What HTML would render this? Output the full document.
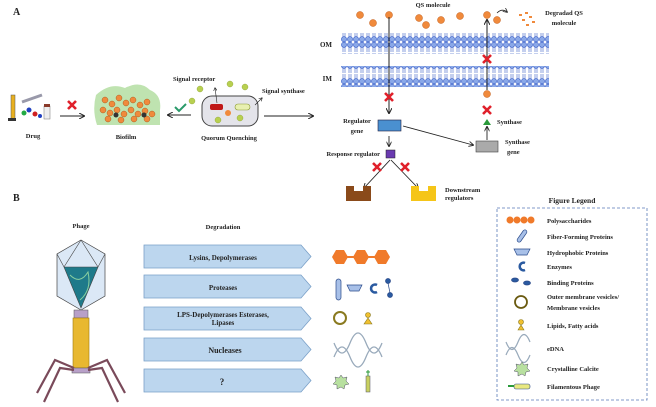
<!DOCTYPE html>
<html><head><meta charset="utf-8"><style>
body{margin:0;background:#fff}
svg{display:block}
text{font-family:"Liberation Serif",serif;font-weight:bold;fill:#222}
</style></head><body>
<svg width="656" height="407" viewBox="0 0 656 407" xmlns="http://www.w3.org/2000/svg">
<defs>
<pattern id="lip" x="341" y="0" width="6" height="21" patternUnits="userSpaceOnUse">
<circle cx="3" cy="2.8" r="2.6" fill="#8aa8e8" stroke="#3a5fc8" stroke-width="0.6"/>
<circle cx="3" cy="18.2" r="2.6" fill="#8aa8e8" stroke="#3a5fc8" stroke-width="0.6"/>
<path d="M2 5 V10 M4 5 V10 M2 11 V16 M4 11 V16" stroke="#3a5fc8" stroke-width="0.6"/>
</pattern>
<marker id="ah" markerWidth="6" markerHeight="6" refX="5" refY="3" orient="auto"><path d="M0 0 L6 3 L0 6" fill="none" stroke="#222" stroke-width="1"/></marker>
<g id="rx"><path d="M-4 -4 L4 4 M4 -4 L-4 4" stroke="#e0202a" stroke-width="2.6"/></g>
<g id="bp"><path d="M144 0 H301 L311 11.5 L301 23 H144 Z" fill="#bcd6ee" stroke="#7aa0c8" stroke-width="0.8"/></g>
</defs>

<text x="13" y="15" font-size="10">A</text>
<text x="13" y="201" font-size="10">B</text>

<rect x="341" y="33" width="208" height="21" fill="url(#lip)"/>
<rect x="341" y="66" width="208" height="21" fill="url(#lip)"/>
<text x="332" y="47" font-size="7" text-anchor="end">OM</text>
<text x="332" y="81" font-size="7" text-anchor="end">IM</text>

<g fill="#f08a3c" stroke="#c25a14" stroke-width="0.5">
<circle cx="360" cy="15" r="3.5"/><circle cx="373" cy="23" r="3.5"/><circle cx="389" cy="15" r="3.5"/>
<circle cx="419" cy="18" r="3.5"/><circle cx="426" cy="25" r="3.5"/><circle cx="441" cy="20" r="3.5"/>
<circle cx="460" cy="16" r="3.5"/><circle cx="487" cy="15" r="3.5"/><circle cx="497" cy="20" r="3.5"/>
<circle cx="487" cy="94" r="3.5"/>
</g>
<g fill="#f08a3c"><rect x="519" y="14" width="3" height="2"/><rect x="525" y="12" width="3" height="2"/><rect x="529" y="16" width="3" height="2"/><rect x="522" y="19" width="3" height="2"/><rect x="532" y="21" width="3" height="2"/><rect x="526" y="24" width="3" height="2"/></g>
<path d="M497 13 Q502 8 507 12" fill="none" stroke="#222" stroke-width="0.8" marker-end="url(#ah)"/>
<text x="433" y="7" font-size="6.5" text-anchor="middle">QS molecule</text>
<text x="564" y="15" font-size="6.5" text-anchor="middle">Degradad QS</text>
<text x="564" y="25" font-size="6.5" text-anchor="middle">molecule</text>

<line x1="389" y1="17" x2="389" y2="113" stroke="#222" stroke-width="1" marker-end="url(#ah)"/>
<use href="#rx" x="389" y="97"/>
<rect x="378" y="120" width="23" height="11" fill="#4a90d0" stroke="#224" stroke-width="0.6"/>
<text x="357" y="123" font-size="6.5" text-anchor="middle">Regulator</text>
<text x="357" y="133" font-size="6.5" text-anchor="middle">gene</text>
<line x1="389" y1="136" x2="389" y2="146" stroke="#222" stroke-width="0.9" marker-end="url(#ah)"/>
<rect x="386" y="150" width="9" height="8" fill="#6a3ab0" stroke="#222" stroke-width="0.5"/>
<text x="380" y="156" font-size="6.5" text-anchor="end">Response regulator</text>
<line x1="390" y1="160" x2="364" y2="188" stroke="#222" stroke-width="0.9" marker-end="url(#ah)"/>
<line x1="391" y1="160" x2="418" y2="188" stroke="#222" stroke-width="0.9" marker-end="url(#ah)"/>
<use href="#rx" x="377" y="167"/><use href="#rx" x="405" y="167"/>
<path d="M346 186 H354 V191 H363 V186 H371 V201 H346 Z" fill="#8a4a1a"/>
<path d="M411 186 H419 V191 H428 V186 H436 V201 H411 Z" fill="#f5c518"/>
<text x="445" y="192" font-size="6.5">Downstream</text>
<text x="445" y="200" font-size="6.5">regulators</text>

<line x1="403" y1="126" x2="473" y2="145" stroke="#222" stroke-width="0.9" marker-end="url(#ah)"/>
<rect x="476" y="141" width="22" height="11" fill="#aaa" stroke="#444" stroke-width="0.6"/>
<text x="505" y="144" font-size="6.5">Synthase</text>
<text x="507" y="154" font-size="6.5">gene</text>
<line x1="487" y1="140" x2="487" y2="127" stroke="#222" stroke-width="0.9" marker-end="url(#ah)"/>
<path d="M483 125 L487 119 L491 125 Z" fill="#2a9a3a"/>
<text x="497" y="124" font-size="6.5">Synthase</text>
<use href="#rx" x="487" y="110"/>
<line x1="487" y1="90" x2="487" y2="20" stroke="#222" stroke-width="1" marker-end="url(#ah)"/>
<use href="#rx" x="487" y="59"/>

<rect x="11" y="95" width="4" height="24" fill="#e8b020" stroke="#555" stroke-width="0.5"/>
<rect x="8" y="118" width="8" height="3" fill="#333"/>
<path d="M22 102 L42 95" stroke="#99a" stroke-width="3"/>
<circle cx="24" cy="113" r="2.5" fill="#22aa44"/><circle cx="29" cy="110" r="2.5" fill="#2040c0"/><circle cx="35" cy="114" r="2.5" fill="#d02020"/><circle cx="40" cy="116" r="2" fill="#2040c0"/>
<rect x="44" y="106" width="6" height="13" fill="#eee" stroke="#777" stroke-width="0.5"/><rect x="44" y="104" width="6" height="3" fill="#8a3a2a"/>
<text x="33" y="138" font-size="6.5" text-anchor="middle">Drug</text>
<line x1="60" y1="116" x2="84" y2="116" stroke="#222" stroke-width="1" marker-end="url(#ah)"/>
<use href="#rx" x="72" y="105"/>
<path d="M96 95 Q110 82 125 88 Q140 80 150 90 Q162 95 160 110 L160 125 L97 125 Q92 110 96 95 Z" fill="#bfe3b0"/>
<g fill="#f08a3c" stroke="#a04a10" stroke-width="0.4">
<circle cx="105" cy="100" r="3"/><circle cx="112" cy="104" r="3"/><circle cx="119" cy="98" r="3"/><circle cx="126" cy="103" r="3"/><circle cx="133" cy="100" r="3"/><circle cx="140" cy="105" r="3"/><circle cx="147" cy="102" r="3"/>
<circle cx="103" cy="110" r="3"/><circle cx="110" cy="113" r="3"/><circle cx="117" cy="110" r="3"/><circle cx="124" cy="114" r="3"/><circle cx="131" cy="110" r="3"/><circle cx="138" cy="114" r="3"/><circle cx="145" cy="111" r="3"/><circle cx="152" cy="114" r="3"/>
<circle cx="108" cy="119" r="3"/><circle cx="121" cy="120" r="3"/><circle cx="134" cy="119" r="3"/><circle cx="147" cy="119" r="3"/>
</g>
<circle cx="116" cy="115" r="2.5" fill="#333"/><circle cx="144" cy="115" r="2.5" fill="#333"/>
<text x="126" y="139" font-size="6.5" text-anchor="middle">Biofilm</text>
<line x1="191" y1="115" x2="168" y2="115" stroke="#222" stroke-width="1" marker-end="url(#ah)"/>
<path d="M175 107 L179 111 L186 104" fill="none" stroke="#2a9a6a" stroke-width="2"/>
<rect x="202" y="96" width="56" height="30" rx="10" fill="#e4e4ea" stroke="#444" stroke-width="1"/>
<rect x="210" y="104" width="13" height="6" rx="2" fill="#c01818"/>
<rect x="235" y="104" width="15" height="6" rx="3" fill="#e8f0b0" stroke="#8a9a30" stroke-width="0.6"/>
<g fill="#b8d050" stroke="#8aa030" stroke-width="0.4">
<circle cx="200" cy="89" r="3"/><circle cx="192" cy="101" r="3"/><circle cx="230" cy="84" r="3"/><circle cx="245" cy="87" r="3"/><circle cx="218" cy="120" r="3"/><circle cx="240" cy="118" r="3"/></g>
<circle cx="228" cy="113" r="3" fill="#f08a3c"/>
<path d="M217 103 L215 88" stroke="#222" stroke-width="0.6" marker-end="url(#ah)"/>
<path d="M255 105 L262 98" stroke="#222" stroke-width="0.6" marker-end="url(#ah)"/>
<text x="173" y="81" font-size="6.5">Signal receptor</text>
<text x="262" y="93" font-size="6.5">Signal synthase</text>
<text x="229" y="140" font-size="6.5" text-anchor="middle">Quorum Quenching</text>
<line x1="264" y1="116" x2="313" y2="116" stroke="#222" stroke-width="1" marker-end="url(#ah)"/>

<text x="81" y="228" font-size="6.5" text-anchor="middle">Phage</text>
<text x="223" y="229" font-size="6.5" text-anchor="middle">Degradation</text>
<path d="M81 240 L105 254 L105 296 L81 310 L57 296 L57 254 Z" fill="#dbe8f6" stroke="#444" stroke-width="0.7"/>
<path d="M64 267 L98 267 L81 308 Z" fill="#1e7a8a" stroke="#444" stroke-width="0.6"/>
<path d="M70 275 Q80 285 88 272 Q92 290 80 300" fill="none" stroke="#8ad0a0" stroke-width="1"/>
<path d="M57 254 L64 267 M105 254 L98 267 M81 240 L64 267 M81 240 L98 267" stroke="#444" stroke-width="0.6" fill="none"/>
<rect x="74" y="310" width="14" height="8" fill="#b8a0c8" stroke="#555" stroke-width="0.5"/>
<rect x="73" y="318" width="16" height="50" fill="#e8b830" stroke="#a07a10" stroke-width="0.6"/>
<rect x="72" y="368" width="18" height="5" fill="#b8a0c8" stroke="#555" stroke-width="0.5"/>
<g stroke="#7a4a5a" stroke-width="2.2" fill="none">
<path d="M74 368 L55 360 L37 393"/><path d="M74 370 L60 368 L44 402"/><path d="M88 368 L107 360 L125 393"/><path d="M88 370 L102 368 L118 402"/></g>
<use href="#bp" y="245"/><use href="#bp" y="275"/><use href="#bp" y="307"/><use href="#bp" y="338"/><use href="#bp" y="369"/>
<text x="223" y="260" font-size="7" text-anchor="middle">Lysins, Depolymerases</text>
<text x="223" y="290" font-size="7" text-anchor="middle">Proteases</text>
<text x="223" y="317" font-size="7" text-anchor="middle">LPS-Depolymerases  Esterases,</text>
<text x="223" y="325" font-size="7" text-anchor="middle">Lipases</text>
<text x="225" y="353" font-size="8" text-anchor="middle">Nucleases</text>
<text x="222" y="385" font-size="9" text-anchor="middle">?</text>
<g fill="#f07a2a"><path d="M332 257 L336 250 H344 L348 257 L344 264 H336 Z"/><path d="M353 257 L357 250 H365 L369 257 L365 264 H357 Z"/><path d="M374 257 L378 250 H386 L390 257 L386 264 H378 Z"/><rect x="346" y="256" width="8" height="2"/><rect x="367" y="256" width="8" height="2"/></g>
<g fill="#a8c0e8" stroke="#2a4a8a" stroke-width="0.7"><rect x="336" y="279" width="5" height="21" rx="2.5"/><path d="M347 285 H362 L359 291 H350 Z"/><circle cx="388" cy="281" r="2.5" fill="#2a5aa0"/><circle cx="390" cy="295" r="2.5" fill="#2a5aa0"/><line x1="388" y1="283" x2="390" y2="293"/></g>
<path d="M377 285 A4 4 0 1 0 377 292" fill="none" stroke="#2a5aa0" stroke-width="2.5"/>
<circle cx="340" cy="318" r="6" fill="none" stroke="#8a7a20" stroke-width="2"/>
<circle cx="368" cy="315" r="2.5" fill="#f0c030" stroke="#8a7a20" stroke-width="0.6"/><path d="M368 318 L364 324 H372 Z" fill="#f0c030" stroke="#8a7a20" stroke-width="0.6"/>
<path d="M334 343 Q342 363 350 343 T366 343 T382 343 M334 357 Q342 337 350 357 T366 357 T382 357" fill="none" stroke="#9ab" stroke-width="1.3"/>
<path d="M341 375 L343 378 L347 377 L346 381 L349 384 L345 385 L344 389 L341 387 L337 389 L337 385 L333 384 L336 381 L335 377 L339 378 Z" fill="#b8e0a0" stroke="#556" stroke-width="0.5"/>
<rect x="366" y="376" width="4" height="16" fill="#c8d060" stroke="#556" stroke-width="0.5"/><path d="M368 376 L368 370 M366 372 L370 372" stroke="#2a9a3a" stroke-width="1"/>

<text x="572" y="203" font-size="7.5" text-anchor="middle">Figure Legend</text>
<rect x="497" y="208" width="150" height="192" fill="none" stroke="#5a7ab8" stroke-width="0.8" stroke-dasharray="3,2"/>
<g font-size="6.5">
<text x="547" y="223">Polysaccharides</text>
<text x="547" y="239">Fiber-Forming Proteins</text>
<text x="547" y="255">Hydrophobic Proteins</text>
<text x="547" y="269">Enzymes</text>
<text x="547" y="285">Binding Proteins</text>
<text x="547" y="299">Outer membrane vesicles/</text>
<text x="547" y="310">Membrane vesicles</text>
<text x="547" y="328">Lipids, Fatty acids</text>
<text x="547" y="351">eDNA</text>
<text x="547" y="371">Crystalline Calcite</text>
<text x="547" y="389">Filamentous Phage</text>
</g>
<g fill="#f07a2a"><circle cx="510" cy="220" r="3.5"/><circle cx="517" cy="220" r="3.5"/><circle cx="524" cy="220" r="3.5"/><circle cx="531" cy="220" r="3.5"/></g>
<g fill="#a8c0e8" stroke="#2a4a8a" stroke-width="0.7">
<rect x="520" y="229" width="4" height="14" rx="2" transform="rotate(35 522 236)"/>
<path d="M514 249 H530 L527 255 H517 Z"/>
<ellipse cx="515" cy="280" rx="3.5" ry="2" fill="#2a5aa0"/><ellipse cx="527" cy="283" rx="3.5" ry="2" fill="#2a5aa0"/>
</g>
<path d="M525 263 A3.8 3.8 0 1 0 525 270" fill="none" stroke="#2a5aa0" stroke-width="2.5"/>
<circle cx="521" cy="302" r="6" fill="none" stroke="#6a5a10" stroke-width="1.8"/>
<circle cx="521" cy="322" r="2.5" fill="#f0c030" stroke="#8a7a20" stroke-width="0.6"/><path d="M521 325 L518 330 H524 Z" fill="#f0c030" stroke="#8a7a20" stroke-width="0.6"/>
<path d="M506 342 Q512 357 518 342 T530 342 M506 355 Q512 340 518 355 T530 355" fill="none" stroke="#9ab" stroke-width="1.2"/>
<path d="M522 362 L524 365 L528 364 L527 368 L530 371 L526 372 L525 376 L522 374 L518 376 L518 372 L514 371 L517 368 L516 364 L520 365 Z" fill="#b8e0a0" stroke="#556" stroke-width="0.5"/>
<rect x="514" y="384" width="16" height="5" rx="2" fill="#e8e880" stroke="#2a4a8a" stroke-width="0.6"/><path d="M508 386 H514" stroke="#2a9a3a" stroke-width="2"/>
</svg>
</body></html>
